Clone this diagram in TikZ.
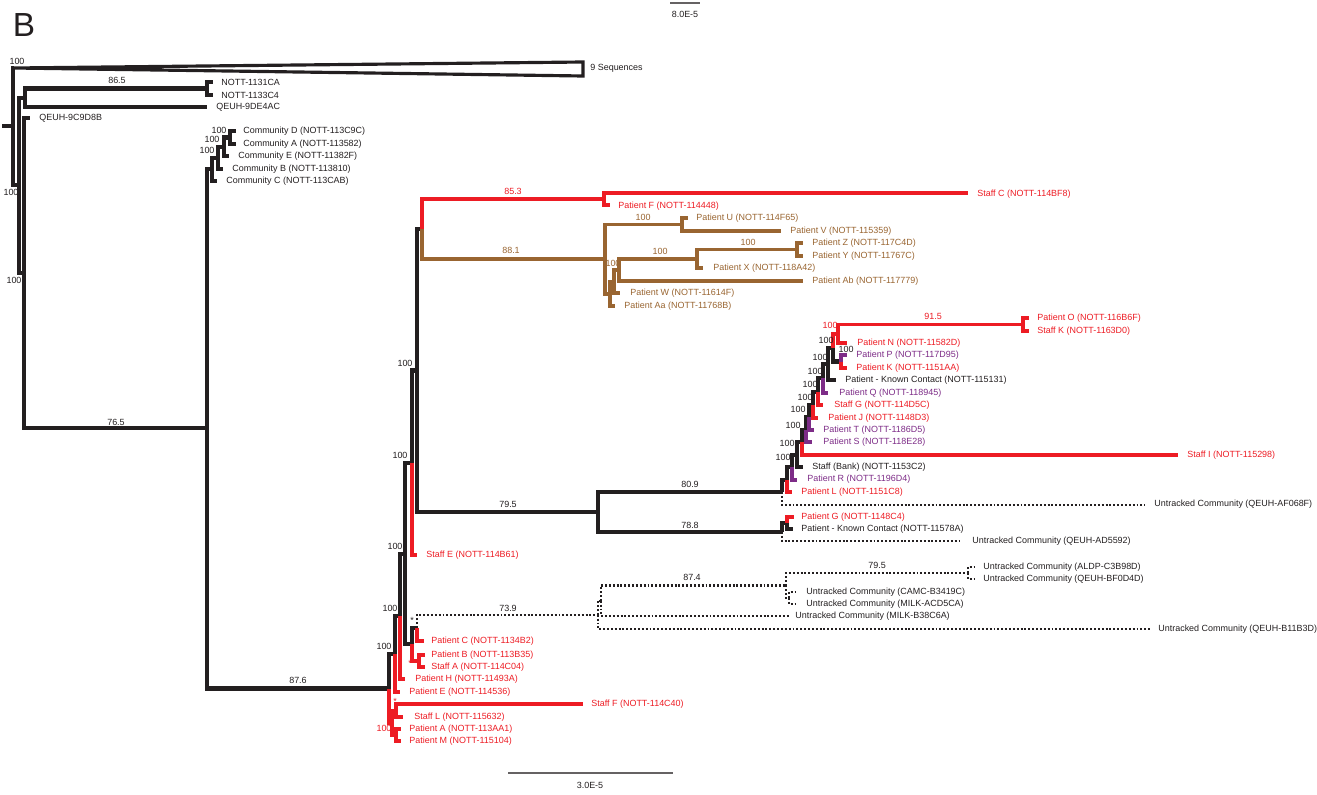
\documentclass[tikz,border=0pt]{standalone}
\usepackage{fontspec}
\setmainfont{Liberation Sans}
\usepackage{xcolor}
\usepackage{tikz}
\definecolor{TreeBlack}{HTML}{231F20}
\definecolor{TreeRed}{HTML}{ED1C24}
\definecolor{TreeBrown}{HTML}{996531}
\definecolor{TreePurple}{HTML}{7D2C87}

\begin{document}
\begin{tikzpicture}[x=0.02cm, y=-0.02cm,
  blk/.style={line width=2.3pt, draw=TreeBlack, line join=miter},
  rd/.style={blk, draw=TreeRed, line width=2.1pt},
  brn/.style={blk, draw=TreeBrown, line width=2.1pt},
  prp/.style={blk, draw=TreePurple, line width=2.1pt},
  dotd/.style={line width=1.3pt, draw=TreeBlack, dash pattern=on 1.1pt off 1.1pt},
  nm/.style={anchor=west, inner sep=0pt, font=\fontsize{5.1}{6}\selectfont, text=TreeBlack},
  nmr/.style={nm, text=TreeRed},
  nmb/.style={nm, text=TreeBrown},
  nmp/.style={nm, text=TreePurple},
  bs/.style={inner sep=0pt, font=\fontsize{5.1}{6}\selectfont, text=TreeBlack},
  bsr/.style={bs, text=TreeRed},
  bsb/.style={bs, text=TreeBrown}
]
\useasboundingbox (0,0) rectangle (1317,794);
\node[font=\fontsize{19}{20}\selectfont, text=TreeBlack, inner sep=0pt] (panel) at (24,25) {B};

% scale bars
\coordinate (sbTopL) at (670,3);
\coordinate (sbTopR) at (700,3);
\draw[line width=0.6pt, TreeBlack!70] (sbTopL) -- (sbTopR);
\node[bs] (sbTopLab) at (685,14) {8.0E-5};
\coordinate (sbBotL) at (508,773);
\coordinate (sbBotR) at (673,773);
\draw[line width=0.6pt, TreeBlack!70] (sbBotL) -- (sbBotR);
\node[bs] (sbBotLab) at (590,785) {3.0E-5};

% backbone
\coordinate (r0) at (2,126);
\coordinate (r) at (13,126);
\coordinate (tri) at (14,68);
\coordinate (n19) at (19,185.4);
\coordinate (n25) at (25,97.8);
\coordinate (n207a) at (207,88.5);
\coordinate (l1131) at (213,82);
\coordinate (l1133) at (213,95);
\coordinate (lDE4) at (207,107);
\coordinate (n24) at (24,273);
\coordinate (l9C9) at (30,118);
\coordinate (n207) at (207,428);
\draw[blk] (r0) -- (r);
\draw[blk] (r) |- (tri);
\draw[blk, line width=1.8pt, fill=white] (tri) -- (583,62) -- (583,76) -- cycle;
\draw[blk] (r) |- (n19);
\draw[blk] (n19) |- (n25);
\draw[blk] (n25) |- (n207a);
\draw[blk] (n207a) |- (l1131);
\draw[blk] (n207a) |- (l1133);
\draw[blk] (n25) |- (lDE4);
\draw[blk] (n19) |- (n24);
\draw[blk] (n24) |- (l9C9);
\draw[blk] (n24) |- (n207);

% community clade
\coordinate (c1) at (230,137.5);
\coordinate (c2) at (224,146.8);
\coordinate (c3) at (218,157.9);
\coordinate (c4) at (212,169.4);
\coordinate (lComD) at (236,131);
\coordinate (lComA) at (236,144);
\coordinate (lComE) at (229,156);
\coordinate (lComB) at (223,169);
\coordinate (lComC) at (217,181);
\draw[blk] (n207) |- (c4);
\draw[blk] (c4) |- (c3);
\draw[blk] (c4) |- (lComC);
\draw[blk] (c3) |- (c2);
\draw[blk] (c3) |- (lComB);
\draw[blk] (c2) |- (c1);
\draw[blk] (c2) |- (lComE);
\draw[blk] (c1) |- (lComD);
\draw[blk] (c1) |- (lComA);

% lower trunk
\coordinate (n389) at (389,688.5);
\coordinate (n395) at (395,654.2);
\coordinate (n400) at (400,616.4);
\coordinate (n405) at (405,553.9);
\coordinate (n412) at (412,462.8);
\coordinate (n417) at (417,370.5);
\coordinate (n422) at (422,229);
\coordinate (lStE) at (417,555);
\coordinate (lPtH) at (405,679);
\coordinate (lPtE) at (400,692);
\coordinate (n412b) at (412,644.4);
\coordinate (n417b) at (417,627.9);
\coordinate (lPtC) at (424,641);
\coordinate (nBA) at (419,661);
\coordinate (lPtB) at (425,655);
\coordinate (lStA) at (425,667);
\coordinate (rR) at (392,722.8);
\coordinate (rFL) at (396,710.5);
\coordinate (rAM) at (396,735);
\coordinate (lStF) at (583,704);
\coordinate (lStL) at (403,717);
\coordinate (lPtA) at (401,729);
\coordinate (lPtM) at (401,741);
\draw[blk] (n207) |- (n389);
\draw[blk] (n389) |- (n395);
\draw[rd] (n389) |- (rR);
\draw[blk] (n395) |- (n400);
\draw[rd] (n395) |- (lPtE);
\draw[blk] (n400) |- (n405);
\draw[rd] (n400) |- (lPtH);
\draw[blk] (n405) |- (n412);
\draw[blk] (n405) |- (n412b);
\draw[blk] (n412) |- (n417);
\draw[rd] (n412) |- (lStE);
\draw[blk] (n417) |- (n422);
\draw[blk] (n412b) |- (n417b);
\draw[rd] (n412b) |- (nBA);
\draw[rd] (n417b) |- (lPtC);
\draw[rd] (nBA) |- (lPtB);
\draw[rd] (nBA) |- (lStA);
\draw[rd] (rR) |- (rFL);
\draw[rd] (rR) |- (rAM);
\draw[rd] (rFL) |- (lStF);
\draw[rd] (rFL) |- (lStL);
\draw[rd] (rAM) |- (lPtA);
\draw[rd] (rAM) |- (lPtM);

% untracked (dotted) clade
\coordinate (d598) at (598,614.8);
\coordinate (d601) at (601,600.8);
\coordinate (d786) at (786,585.5);
\coordinate (d968) at (968,573);
\coordinate (d789) at (789,598);
\coordinate (lALDP) at (975,567);
\coordinate (lBF0) at (975,579);
\coordinate (lCAMC) at (796,592);
\coordinate (lACD) at (796,604);
\coordinate (lB38) at (790,616);
\coordinate (lB11) at (1150,629);
\draw[dotd] (n417b) |- (d598);
\draw[dotd] (d598) |- (d601);
\draw[dotd] (d598) |- (lB11);
\draw[dotd] (d601) |- (d786);
\draw[dotd] (d601) |- (lB38);
\draw[dotd] (d786) |- (d968);
\draw[dotd] (d786) |- (d789);
\draw[dotd] (d968) |- (lALDP);
\draw[dotd] (d968) |- (lBF0);
\draw[dotd] (d789) |- (lCAMC);
\draw[dotd] (d789) |- (lACD);

% red / brown clades at top
\coordinate (n604) at (604,199);
\coordinate (lStC) at (968,193);
\coordinate (lPtF) at (610,205);
\coordinate (b0) at (605,259.1);
\coordinate (b1) at (682,224.5);
\coordinate (b2) at (610,293.7);
\coordinate (b3) at (614,281.4);
\coordinate (b4) at (619,269.9);
\coordinate (bXZY) at (697,258.8);
\coordinate (bZY) at (797,249.5);
\coordinate (lPtU) at (688,218);
\coordinate (lPtV) at (781,231);
\coordinate (lPtZ) at (803,243);
\coordinate (lPtY) at (803,256);
\coordinate (lPtX) at (703,268);
\coordinate (lPtAb) at (803,281);
\coordinate (lPtW) at (620,293);
\coordinate (lPtAa) at (615,306);
\draw[rd] (n422) |- (n604);
\draw[rd] (n604) |- (lStC);
\draw[rd] (n604) |- (lPtF);
\draw[brn] (n422) |- (b0);
\draw[brn] (b0) |- (b1);
\draw[brn] (b0) |- (b2);
\draw[brn] (b1) |- (lPtU);
\draw[brn] (b1) |- (lPtV);
\draw[brn] (b2) |- (b3);
\draw[brn] (b2) |- (lPtAa);
\draw[brn] (b3) |- (b4);
\draw[brn] (b3) |- (lPtW);
\draw[brn] (b4) |- (bXZY);
\draw[brn] (b4) |- (lPtAb);
\draw[brn] (bXZY) |- (bZY);
\draw[brn] (bXZY) |- (lPtX);
\draw[brn] (bZY) |- (lPtZ);
\draw[brn] (bZY) |- (lPtY);

% hospital clade
\coordinate (m0) at (598,512.2);
\coordinate (A0) at (782,492.3);
\coordinate (A1) at (787,479.7);
\coordinate (A2) at (792,467.3);
\coordinate (A3) at (797,454.7);
\coordinate (A4) at (802,442.4);
\coordinate (A5) at (806,429.7);
\coordinate (A6) at (809,417.4);
\coordinate (A7) at (813,404.9);
\coordinate (A8) at (818,391.7);
\coordinate (A9) at (823,378.4);
\coordinate (A10) at (828,363.8);
\coordinate (A11) at (833,347.6);
\coordinate (A12) at (838,333.8);
\coordinate (nPK) at (841,361.5);
\coordinate (nOK) at (1023,324.5);
\coordinate (lAF0) at (1145,505);
\coordinate (lPtL) at (792,492);
\coordinate (lPtR) at (797,480);
\coordinate (lBank) at (803,467);
\coordinate (lStI) at (1178,455);
\coordinate (lPtS) at (812,442);
\coordinate (lPtT) at (814,430);
\coordinate (lPtJ) at (818,418);
\coordinate (lStG) at (823,405);
\coordinate (lPtQ) at (828,393);
\coordinate (lKC1) at (836,380);
\coordinate (lPtN) at (847,343);
\coordinate (lPtP) at (847,355);
\coordinate (lPtK) at (847,368);
\coordinate (lPtO) at (1029,318);
\coordinate (lStK) at (1029,331);
\coordinate (B0) at (782,532);
\coordinate (nGK) at (787,523);
\coordinate (lPtG) at (794,517);
\coordinate (lKC2) at (793,529);
\coordinate (lAD5) at (962,541);
\draw[blk] (n417) |- (m0);
\draw[blk] (m0) |- (A0);
\draw[blk] (m0) |- (B0);
\draw[dotd] (A0) |- (lAF0);
\draw[blk] (A0) |- (A1);
\draw[rd] (A1) |- (lPtL);
\draw[blk] (A1) |- (A2);
\draw[prp] (A2) |- (lPtR);
\draw[blk] (A2) |- (A3);
\draw[blk] (A3) |- (lBank);
\draw[blk] (A3) |- (A4);
\draw[rd] (A4) |- (lStI);
\draw[blk] (A4) |- (A5);
\draw[prp] (A5) |- (lPtS);
\draw[blk] (A5) |- (A6);
\draw[prp] (A6) |- (lPtT);
\draw[blk] (A6) |- (A7);
\draw[rd] (A7) |- (lPtJ);
\draw[blk] (A7) |- (A8);
\draw[rd] (A8) |- (lStG);
\draw[blk] (A8) |- (A9);
\draw[prp] (A9) |- (lPtQ);
\draw[blk] (A9) |- (A10);
\draw[blk] (A10) |- (lKC1);
\draw[blk] (A10) |- (A11);
\draw[blk] (A11) |- (nPK);
\draw[rd] (A11) |- (A12);
\draw[rd] (A12) |- (nOK);
\draw[rd] (A12) |- (lPtN);
\draw[prp] (nPK) |- (lPtP);
\draw[rd] (nPK) |- (lPtK);
\draw[rd] (nOK) |- (lPtO);
\draw[rd] (nOK) |- (lStK);
\draw[blk] (B0) |- (nGK);
\draw[dotd] (B0) |- (lAD5);
\draw[rd] (nGK) |- (lPtG);
\draw[blk] (nGK) |- (lKC2);

% taxon names
\node[nm] (t9seq) at (590,68) {9 Sequences};
\node[nm] (t1131) at (221,82) {NOTT-1131CA};
\node[nm] (t1133) at (221,95) {NOTT-1133C4};
\node[nm] (tDE4) at (216,107) {QEUH-9DE4AC};
\node[nm] (t9C9) at (39,118) {QEUH-9C9D8B};
\node[nm] (tComD) at (243,131) {Community D (NOTT-113C9C)};
\node[nm] (tComA) at (243,144) {Community A (NOTT-113582)};
\node[nm] (tComE) at (238,156) {Community E (NOTT-11382F)};
\node[nm] (tComB) at (232,169) {Community B (NOTT-113810)};
\node[nm] (tComC) at (226,181) {Community C (NOTT-113CAB)};
\node[nmr] (tStC) at (977,194) {Staff C (NOTT-114BF8)};
\node[nmr] (tPtF) at (618,206) {Patient F (NOTT-114448)};
\node[nmb] (tPtU) at (696,218) {Patient U (NOTT-114F65)};
\node[nmb] (tPtV) at (790,231) {Patient V (NOTT-115359)};
\node[nmb] (tPtZ) at (812,243) {Patient Z (NOTT-117C4D)};
\node[nmb] (tPtY) at (812,256) {Patient Y (NOTT-11767C)};
\node[nmb] (tPtX) at (713,268) {Patient X (NOTT-118A42)};
\node[nmb] (tPtAb) at (812,281) {Patient Ab (NOTT-117779)};
\node[nmb] (tPtW) at (630,293) {Patient W (NOTT-11614F)};
\node[nmb] (tPtAa) at (624,306) {Patient Aa (NOTT-11768B)};
\node[nmr] (tPtO) at (1037,318) {Patient O (NOTT-116B6F)};
\node[nmr] (tStK) at (1037,331) {Staff K (NOTT-1163D0)};
\node[nmr] (tPtN) at (857,343) {Patient N (NOTT-11582D)};
\node[nmp] (tPtP) at (856,355) {Patient P (NOTT-117D95)};
\node[nmr] (tPtK) at (856,368) {Patient K (NOTT-1151AA)};
\node[nm] (tKC1) at (845,380) {Patient - Known Contact (NOTT-115131)};
\node[nmp] (tPtQ) at (839,393) {Patient Q (NOTT-118945)};
\node[nmr] (tStG) at (834,405) {Staff G (NOTT-114D5C)};
\node[nmr] (tPtJ) at (828,418) {Patient J (NOTT-1148D3)};
\node[nmp] (tPtT) at (823,430) {Patient T (NOTT-1186D5)};
\node[nmp] (tPtS) at (823,442) {Patient S (NOTT-118E28)};
\node[nmr] (tStI) at (1187,455) {Staff I (NOTT-115298)};
\node[nm] (tBank) at (812,467) {Staff (Bank) (NOTT-1153C2)};
\node[nmp] (tPtR) at (807,479) {Patient R (NOTT-1196D4)};
\node[nmr] (tPtL) at (801,492) {Patient L (NOTT-1151C8)};
\node[nm] (tAF0) at (1154,504) {Untracked Community (QEUH-AF068F)};
\node[nmr] (tPtG) at (801,517) {Patient G (NOTT-1148C4)};
\node[nm] (tKC2) at (801,529) {Patient - Known Contact (NOTT-11578A)};
\node[nm] (tAD5) at (972,541) {Untracked Community (QEUH-AD5592)};
\node[nmr] (tStE) at (426,555) {Staff E (NOTT-114B61)};
\node[nm] (tALDP) at (983,567) {Untracked Community (ALDP-C3B98D)};
\node[nm] (tBF0) at (983,579) {Untracked Community (QEUH-BF0D4D)};
\node[nm] (tCAMC) at (806,592) {Untracked Community (CAMC-B3419C)};
\node[nm] (tACD) at (806,604) {Untracked Community (MILK-ACD5CA)};
\node[nm] (tB38) at (795,616) {Untracked Community (MILK-B38C6A)};
\node[nm] (tB11) at (1158,629) {Untracked Community (QEUH-B11B3D)};
\node[nmr] (tPtC) at (431,641) {Patient C (NOTT-1134B2)};
\node[nmr] (tPtB) at (431,655) {Patient B (NOTT-113B35)};
\node[nmr] (tStA) at (431,667) {Staff A (NOTT-114C04)};
\node[nmr] (tPtH) at (415,679) {Patient H (NOTT-11493A)};
\node[nmr] (tPtE) at (409,692) {Patient E (NOTT-114536)};
\node[nmr] (tStF) at (591,704) {Staff F (NOTT-114C40)};
\node[nmr] (tStL) at (414,717) {Staff L (NOTT-115632)};
\node[nmr] (tPtA) at (409,729) {Patient A (NOTT-113AA1)};
\node[nmr] (tPtM) at (409,741) {Patient M (NOTT-115104)};

% support values
\node[bs] (s1) at (17,61) {100};
\node[bs] (s2) at (117,80) {86.5};
\node[bs] (s3) at (11,192) {100};
\node[bs] (s4) at (14,280) {100};
\node[bs] (s5) at (116,422) {76.5};
\node[bs] (s6) at (219,130) {100};
\node[bs] (s7) at (212,139) {100};
\node[bs] (s8) at (207,150) {100};
\node[bs] (s9) at (298,680) {87.6};
\node[bs] (s10) at (405,363) {100};
\node[bs] (s11) at (400,455) {100};
\node[bs] (s12) at (395,546) {100};
\node[bs] (s13) at (390,608) {100};
\node[bs] (s14) at (384,646) {100};
\node[bsr] (s15) at (384,728) {100};
\node[bsr] (s16) at (513,191) {85.3};
\node[bsb] (s17) at (511,250) {88.1};
\node[bsb] (s18) at (643,217) {100};
\node[bsb] (s19) at (660,251) {100};
\node[bsb] (s20) at (748,242) {100};
\node[bsb] (s21) at (613,263) {100};
\node[bs] (s22) at (508,504) {79.5};
\node[bs] (s23) at (690,484) {80.9};
\node[bs] (s24) at (690,525) {78.8};
\node[bsr] (s25) at (933,316) {91.5};
\node[bsr] (s26) at (830,325) {100};
\node[bs] (s27) at (826,340) {100};
\node[bs] (s28) at (846,349) {100};
\node[bs] (s29) at (820,357) {100};
\node[bs] (s30) at (815,371) {100};
\node[bs] (s31) at (810,384) {100};
\node[bs] (s32) at (805,397) {100};
\node[bs] (s33) at (798,409) {100};
\node[bs] (s34) at (793,425) {100};
\node[bs] (s35) at (787,443) {100};
\node[bs] (s36) at (783,457) {100};
\node[bs] (s37) at (508,608) {73.9};
\node[bs] (s38) at (692,577) {87.4};
\node[bs] (s39) at (877,565) {79.5};
\node[bs] (st1) at (412,620) {*};
\node[bsr] (st2) at (395,701) {*};
\node[bsr] (st3) at (410,663) {*};
\end{tikzpicture}
\end{document}
